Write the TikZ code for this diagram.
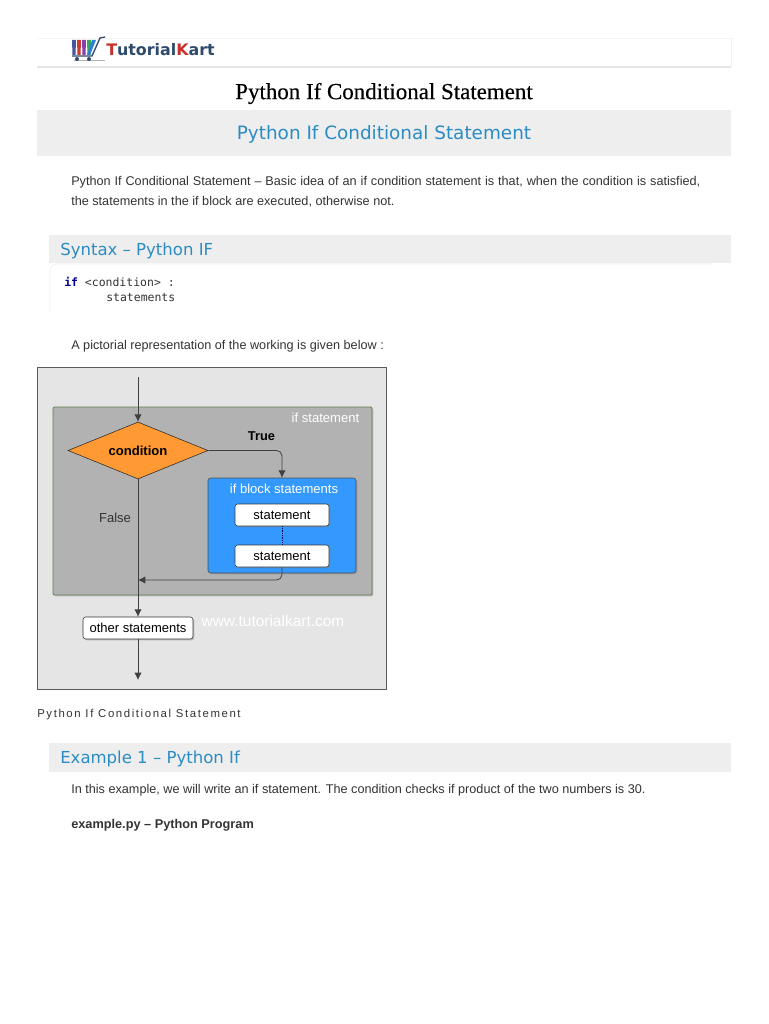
\documentclass[tikz,border=0pt]{standalone}
\usepackage{fontspec}
\setmainfont{Liberation Sans}
\newfontfamily\titlefont[FakeBold=0.3]{Liberation Serif}
\newfontfamily\headfont{DejaVu Sans}
\newfontfamily\codefont{DejaVu Sans Mono}
\newfontfamily\capfont[LetterSpace=14]{Liberation Sans}
\usetikzlibrary{arrows.meta,calc,shadows,shapes.geometric}
\definecolor{headblue}{HTML}{2B8CC4}
\definecolor{bandgray}{HTML}{EEEEEE}
\definecolor{textgray}{HTML}{333333}
\definecolor{groupgreen}{HTML}{5F7F4F}
\definecolor{blockblue}{HTML}{3399FF}
\definecolor{condorange}{HTML}{FF9933}
\definecolor{logored}{HTML}{C8322B}
\definecolor{logoblue}{HTML}{2F4A6B}
\definecolor{barone}{HTML}{4A55A2}
\definecolor{bartwo}{HTML}{C83A32}
\definecolor{barthree}{HTML}{8A3FA8}
\definecolor{barfour}{HTML}{36A85A}
\definecolor{barfive}{HTML}{2F7FD8}
\tikzset{
  band/.style={fill=bandgray,draw=none},
  heading/.style={anchor=west,inner sep=0pt,text=headblue,font=\headfont\fontsize{12.4}{15}\selectfont},
  body/.style={anchor=west,inner sep=0pt,text=textgray,font=\fontsize{9.5}{12}\selectfont},
  codeline/.style={anchor=west,inner sep=0pt,text=textgray,font=\codefont\fontsize{8.6}{11}\selectfont},
  softshadow/.style={drop shadow={shadow xshift=1pt,shadow yshift=-1pt,opacity=0.4}},
  whitebox/.style={draw=black!80,fill=white,rounded corners=2pt,inner sep=0pt,softshadow,font=\fontsize{9.75}{11}\selectfont},
  flowlabel/.style={inner sep=0pt,font=\fontsize{9.8}{11}\selectfont},
  flow/.style={draw=black!75,line width=0.6pt,-{Latex[length=5.5pt,width=5.5pt]}}
}
\begin{document}
\begin{tikzpicture}[x=0.75pt,y=-0.75pt]
\useasboundingbox (0,0) rectangle (768,1024);
\draw[black!10,line width=1pt] (37,67)--(731,67);
\draw[black!4] (37,38)--(731,38);
\draw[black!6] (731,38)--(731,67);

\foreach \barx/\barcol in {72/barone,77/bartwo,82/barthree,87/barfour}
  \fill[\barcol] (\barx,40)--++(4,0)--++(-0.5,15)--++(-3,0)--cycle;
\fill[barfive] (92,40)--(96,40)--(90,55)--(87,55)--cycle;
\draw[logoblue,line width=1pt] (72,56)--(92,56)--(100,38)--(105,37);
\draw[black!30,line width=0.6pt] (74,60)--(105,60);
\fill[logoblue] (77,59) circle (2);
\fill[logoblue] (89,59) circle (2);
\node[anchor=west,inner sep=0pt,font=\headfont\bfseries\fontsize{11.9}{14}\selectfont,text=logoblue] (logotext) at (106,50)
  {\textcolor{logored}{T}utorial\textcolor{logored}{K}art};

\node[inner sep=0pt,font=\titlefont\fontsize{17.2}{20}\selectfont] (pagetitle) at (384,93.5) {Python If Conditional Statement};

\fill[band] (37,110) rectangle (731,156);
\node[heading,anchor=center,font=\headfont\fontsize{13.8}{16}\selectfont] (mainhead) at (384,134.5) {Python If Conditional Statement};

\node[body] (introa) at (71,182) {\makebox[471.75pt][s]{Python If Conditional Statement – Basic idea of an if condition statement is that, when the condition is satisfied,}};
\node[body] (introb) at (71,202) {the statements in the if block are executed, otherwise not.};

\fill[band] (49,235) rectangle (731,263);
\node[heading] (syntaxhead) at (60,251) {Syntax – Python IF};
\draw[black!8,rounded corners=5pt] (50,311)--(50,264)--(712,264);
\node[codeline] (codea) at (64,282) {\textcolor{blue!60!black}{\bfseries if} <condition> :};
\node[codeline] (codeb) at (106,298) {statements};

\node[body] (pictext) at (71,346) {A pictorial representation of the working is given below :};

\draw[fill=black!10,draw=black!65] (37,367) rectangle (386,689);
\node[minimum width=239.25pt,minimum height=141pt,inner sep=0pt,draw=groupgreen,fill=black!30,rounded corners=1pt,line width=0.7pt,softshadow] (ifgroup) at (212.5,501) {};
\node[flowlabel,text=white] (grouplabel) at (325.5,418) {if statement};
\node[diamond,aspect=2.45,minimum width=105pt,minimum height=42.75pt,inner sep=0pt,draw=black!85,fill=condorange,font=\bfseries\fontsize{9.8}{11}\selectfont] (cond) at (138,450.5) {condition};
\node[flowlabel,font=\bfseries\fontsize{9.6}{11}\selectfont] (truelabel) at (261.5,436) {True};
\node[flowlabel,text=textgray] (falselabel) at (115,518) {False};
\node[minimum width=111pt,minimum height=71.25pt,inner sep=0pt,draw=black!70,fill=blockblue,rounded corners=2pt,softshadow] (ifblock) at (282,525.5) {};
\node[flowlabel,text=white] (blocklabel) at (284,489) {if block statements};
\node[whitebox,minimum width=70.5pt,minimum height=16.5pt] (stmta) at (282,515) {statement};
\node[whitebox,minimum width=70.5pt,minimum height=16.5pt] (stmtb) at (282,556) {statement};
\node[whitebox,minimum width=82.5pt,minimum height=16.5pt] (other) at (138,628) {other statements};
\node[flowlabel,text=white,font=\fontsize{11.6}{13}\selectfont] (watermark) at (273,621) {www.tutorialkart.com};

\coordinate (flowstart) at (138,377);
\coordinate (flowend) at (138,680);
\coordinate (merge) at (138,580);
\draw[flow] (flowstart)--(cond.north);
\draw[flow] (cond.south)--(other.north);
\draw[flow] (other.south)--(flowend);
\draw[flow,rounded corners=4pt] (cond.east)-|(ifblock.north);
\draw[flow,rounded corners=4pt] (stmtb.south)|-(merge);
\draw[black!70!blue,densely dotted,line width=0.3pt] (stmta.south)--(stmtb.north);

\node[anchor=west,inner sep=0pt,text=textgray,font=\capfont\fontsize{8.55}{10}\selectfont] (caption) at (37,715) {Python If Conditional Statement};

\fill[band] (49,743) rectangle (731,772);
\node[heading] (examplehead) at (60,759) {Example 1 – Python If};
\node[body] (exampletext) at (71,790) {In this example, we will write an if statement. The condition checks if product of the two numbers is 30.};
\node[body,font=\bfseries\fontsize{9.55}{12}\selectfont] (filelabel) at (71,825) {example.py – Python Program};
\end{tikzpicture}
\end{document}
